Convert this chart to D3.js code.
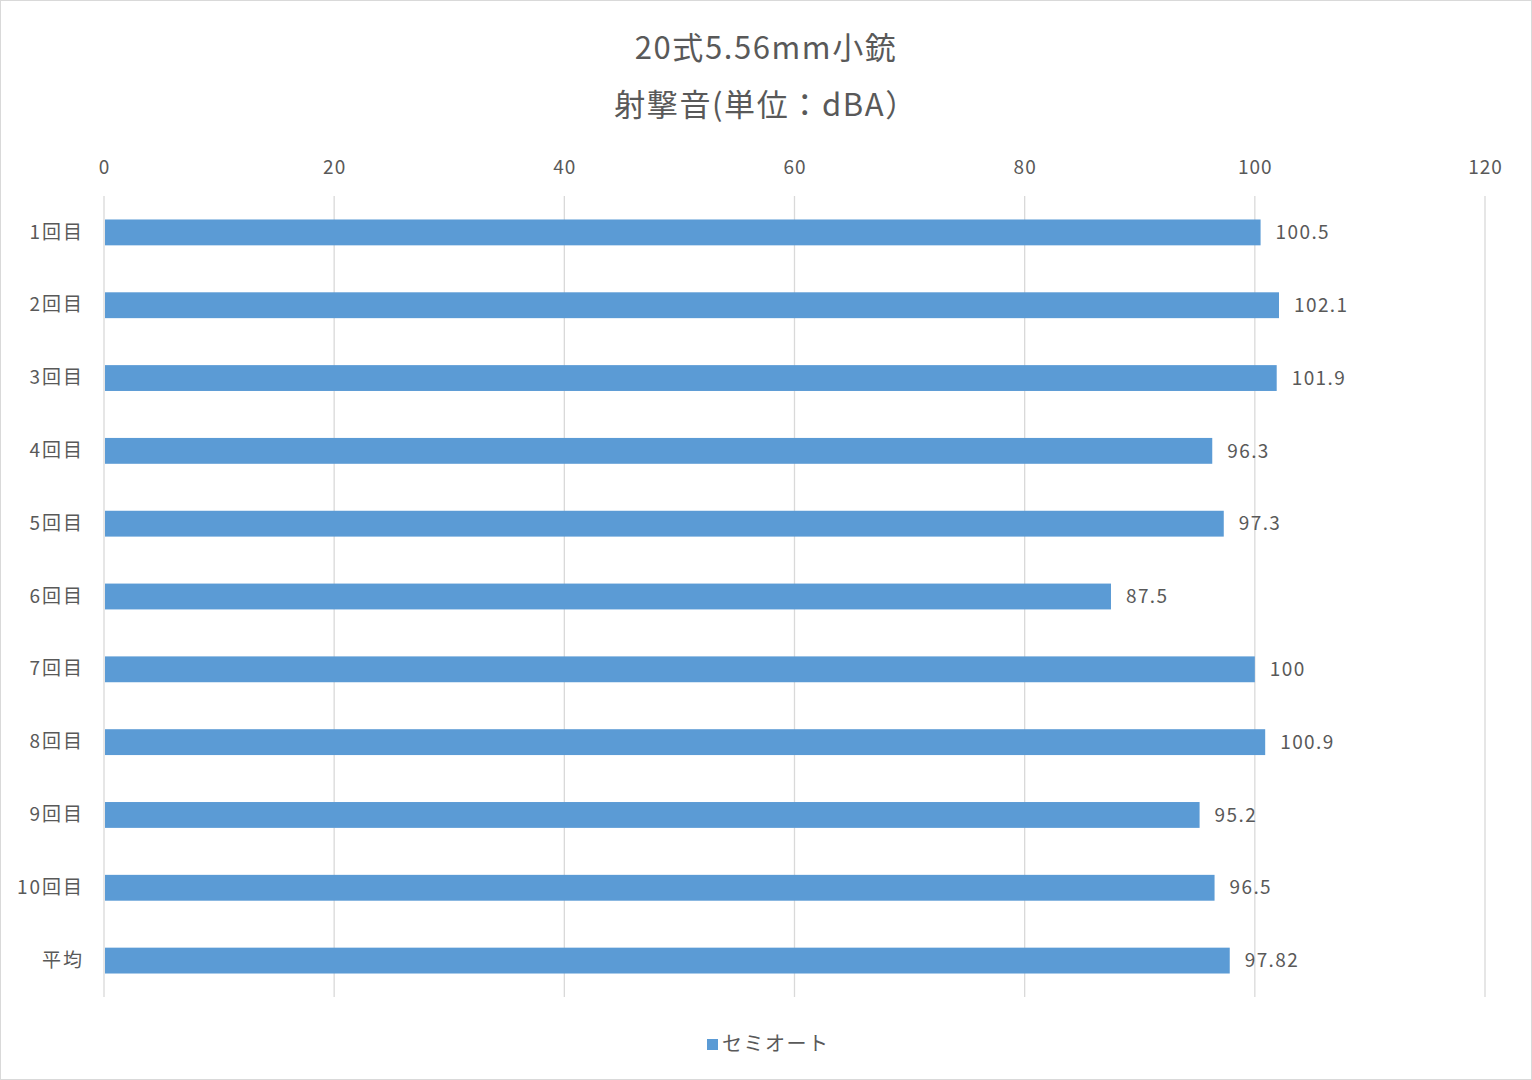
<!DOCTYPE html>
<html>
<head>
<meta charset="utf-8">
<script src="https://cdn.jsdelivr.net/npm/d3@7"></script>
<style>
  body { margin: 0; background: #fff; }
  svg text { font-family: "Noto Sans CJK JP", "Noto Sans", sans-serif; fill: #595959; }
</style>
</head>
<body>
<div id="chart"></div>
<script>
// 射撃音のデータ
var categories = ["1回目","2回目","3回目","4回目","5回目","6回目","7回目","8回目","9回目","10回目","平均"];
var values = [100.5, 102.1, 101.9, 96.3, 97.3, 87.5, 100, 100.9, 95.2, 96.5, 97.82];
var xTicks = [0, 20, 40, 60, 80, 100, 120];
var titleLines = ["20式5.56mm小銃", "射撃音(単位：dBA）"];
var seriesName = "セミオート";

var dim = {
    width: 1532,
    height: 1080,
    margin: { top: 196, left: 104, right: 47, bottom: 83 }
};
dim.boundedWidth = dim.width - dim.margin.left - dim.margin.right;
dim.boundedHeight = dim.height - dim.margin.top - dim.margin.bottom;

const svg = d3.select("#chart").append("svg")
    .attr("width", dim.width)
    .attr("height", dim.height);

svg.append("rect")
    .attr("x", 0.5).attr("y", 0.5)
    .attr("width", dim.width - 1).attr("height", dim.height - 1)
    .attr("fill", "#fff")
    .attr("stroke", "#d9d9d9");

const xScaler = d3.scaleLinear()
    .domain([0, 120])
    .range([0, dim.boundedWidth]);

const yScaler = d3.scaleBand()
    .domain(categories)
    .range([0, dim.boundedHeight])
    .paddingInner(0.645)
    .paddingOuter(0.3225);

const bounded = svg.append("g")
    .attr("transform", `translate(${dim.margin.left},${dim.margin.top})`);

// グリッド
bounded.append("g").selectAll("line")
    .data(xTicks)
    .join("line")
    .attr("x1", d => xScaler(d))
    .attr("x2", d => xScaler(d))
    .attr("y1", 0)
    .attr("y2", dim.boundedHeight)
    .attr("stroke", "#d9d9d9")
    .attr("stroke-width", 1.3);

// 上の目盛り
const xAxis = bounded.append("g")
    .call(d3.axisTop(xScaler).tickValues(xTicks).tickSize(0).tickPadding(22));
xAxis.select(".domain").remove();
xAxis.selectAll("text")
    .style("font-size", "19px")
    .style("letter-spacing", "1px")
    .attr("fill", "#595959");

// 左の目盛り
const yAxis = bounded.append("g")
    .call(d3.axisLeft(yScaler).tickSize(0).tickPadding(20));
yAxis.select(".domain").remove();
yAxis.selectAll("text")
    .style("font-size", "19px")
    .style("letter-spacing", "2px")
    .attr("fill", "#595959");

const data = categories.map((c, i) => ({ cat: c, value: values[i] }));

bounded.selectAll("rect.bar")
    .data(data)
    .join("rect")
    .attr("class", "bar")
    .attr("x", xScaler(0) + 1)
    .attr("y", d => yScaler(d.cat))
    .attr("width", d => xScaler(d.value) - xScaler(0) - 1)
    .attr("height", yScaler.bandwidth())
    .attr("fill", "#5b9bd5");

bounded.selectAll("text.label")
    .data(data)
    .join("text")
    .attr("class", "label")
    .attr("x", d => xScaler(d.value) + 15)
    .attr("y", d => yScaler(d.cat) + yScaler.bandwidth() / 2)
    .attr("dy", "0.35em")
    .style("font-size", "19px")
    .style("letter-spacing", "1.4px")
    .text(d => d.value);

// タイトル
svg.selectAll("text.title")
    .data(titleLines)
    .join("text")
    .attr("class", "title")
    .attr("x", dim.width / 2)
    .attr("y", (d, i) => 48 + i * 57)
    .attr("dy", "0.35em")
    .attr("text-anchor", "middle")
    .style("font-size", "31px")
    .style("letter-spacing", "1.6px")
    .text(d => d);

// 凡例
const legend = svg.append("g").attr("transform", "translate(707,1044)");
legend.append("rect")
    .attr("x", 0).attr("y", -5)
    .attr("width", 11).attr("height", 11)
    .attr("fill", "#5b9bd5");
legend.append("text")
    .attr("x", 15)
    .attr("y", 0)
    .attr("dy", "0.35em")
    .style("font-size", "20px")
    .style("letter-spacing", "1.5px")
    .text(seriesName);
</script>
</body>
</html>
